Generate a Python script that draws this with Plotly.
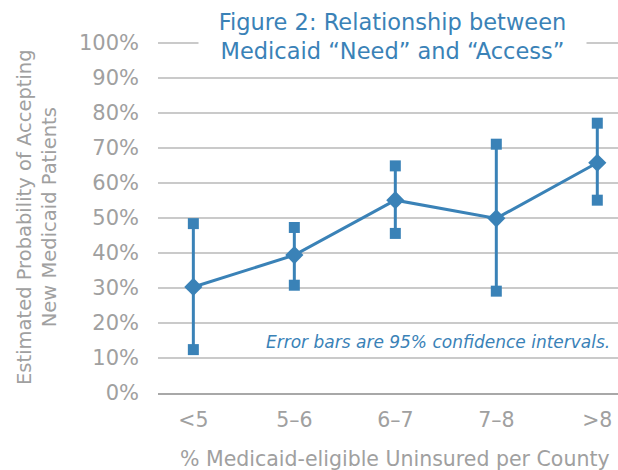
import plotly.graph_objects as go

categories = ["<5", "5–6", "6–7", "7–8", ">8"]
estimate = [30.3, 39.4, 55.1, 49.9, 65.8]
upper_ci = [48.4, 47.3, 64.9, 71.1, 77.1]
lower_ci = [12.4, 30.8, 45.6, 29.1, 55.1]
y_ticks = [0, 10, 20, 30, 40, 50, 60, 70, 80, 90, 100]
y_tick_labels = [f"{v}%" for v in y_ticks]

BLUE = "#3a82b7"
GRAY = "#a0a0a0"
GRID = "#cacaca"
FONT = "DejaVu Sans, Liberation Sans, sans-serif"

xs = list(range(len(categories)))

fig = go.Figure()
fig.add_trace(go.Scatter(
    x=xs, y=estimate, mode="lines+markers",
    line=dict(color=BLUE, width=3),
    marker=dict(symbol="diamond", size=14, color=BLUE),
    error_y=dict(type="data", symmetric=False,
                 array=[u - e for u, e in zip(upper_ci, estimate)],
                 arrayminus=[e - l for e, l in zip(estimate, lower_ci)],
                 color=BLUE, thickness=3, width=0),
    showlegend=False, hoverinfo="skip",
))
fig.add_trace(go.Scatter(
    x=xs + xs, y=upper_ci + lower_ci, mode="markers",
    marker=dict(symbol="square", size=11, color=BLUE),
    showlegend=False, hoverinfo="skip",
))

fig.update_layout(
    width=618, height=470,
    margin=dict(l=158, r=0, t=42, b=77),
    paper_bgcolor="white", plot_bgcolor="white",
    font=dict(family=FONT, color=GRAY),
    xaxis=dict(
        range=[-0.35, 4.205], tickvals=xs, ticktext=categories,
        showgrid=False, zeroline=False,
        showline=True, linecolor="#a8a8a8", linewidth=1.5,
        tickfont=dict(size=20.5, color=GRAY),
        ticks="", ticklabelstandoff=8,
    ),
    yaxis=dict(
        range=[0, 100.3], tickvals=y_ticks, ticktext=y_tick_labels,
        showgrid=True, gridcolor=GRID, gridwidth=1.5,
        zeroline=False, showline=False,
        tickfont=dict(size=21, color=GRAY),
        ticks="", ticklabelstandoff=18,
    ),
    annotations=[
        dict(text="Figure 2: Relationship between<br>Medicaid “Need” and “Access”",
             xref="paper", yref="paper", x=0.5098, y=1.016,
             xanchor="center", yanchor="middle", showarrow=False,
             font=dict(size=22.5, color=BLUE, family=FONT),
             bgcolor="white", width=385, align="center"),
        dict(text="<i>Error bars are 95% confidence intervals.</i>",
             xref="paper", yref="y", x=0.987, y=14.6,
             xanchor="right", yanchor="middle", showarrow=False,
             font=dict(size=17, color=BLUE, family=FONT)),
        dict(text="Estimated Probability of Accepting<br>New Medicaid Patients",
             xref="paper", yref="paper", x=(36.5 - 158) / 460, y=0.5,
             xanchor="center", yanchor="middle", showarrow=False,
             textangle=-90, font=dict(size=19.5, color=GRAY, family=FONT)),
        dict(text="% Medicaid-eligible Uninsured per County",
             xref="paper", yref="paper", x=(394.5 - 158) / 460, y=-(459 - 393) / 351,
             xanchor="center", yanchor="middle", showarrow=False,
             font=dict(size=20.5, color=GRAY, family=FONT)),
    ],
)

fig.write_html(
    "out.html",
    config={"displayModeBar": False},
    post_script="document.body.style.margin='0';document.body.style.overflow='hidden';",
)
